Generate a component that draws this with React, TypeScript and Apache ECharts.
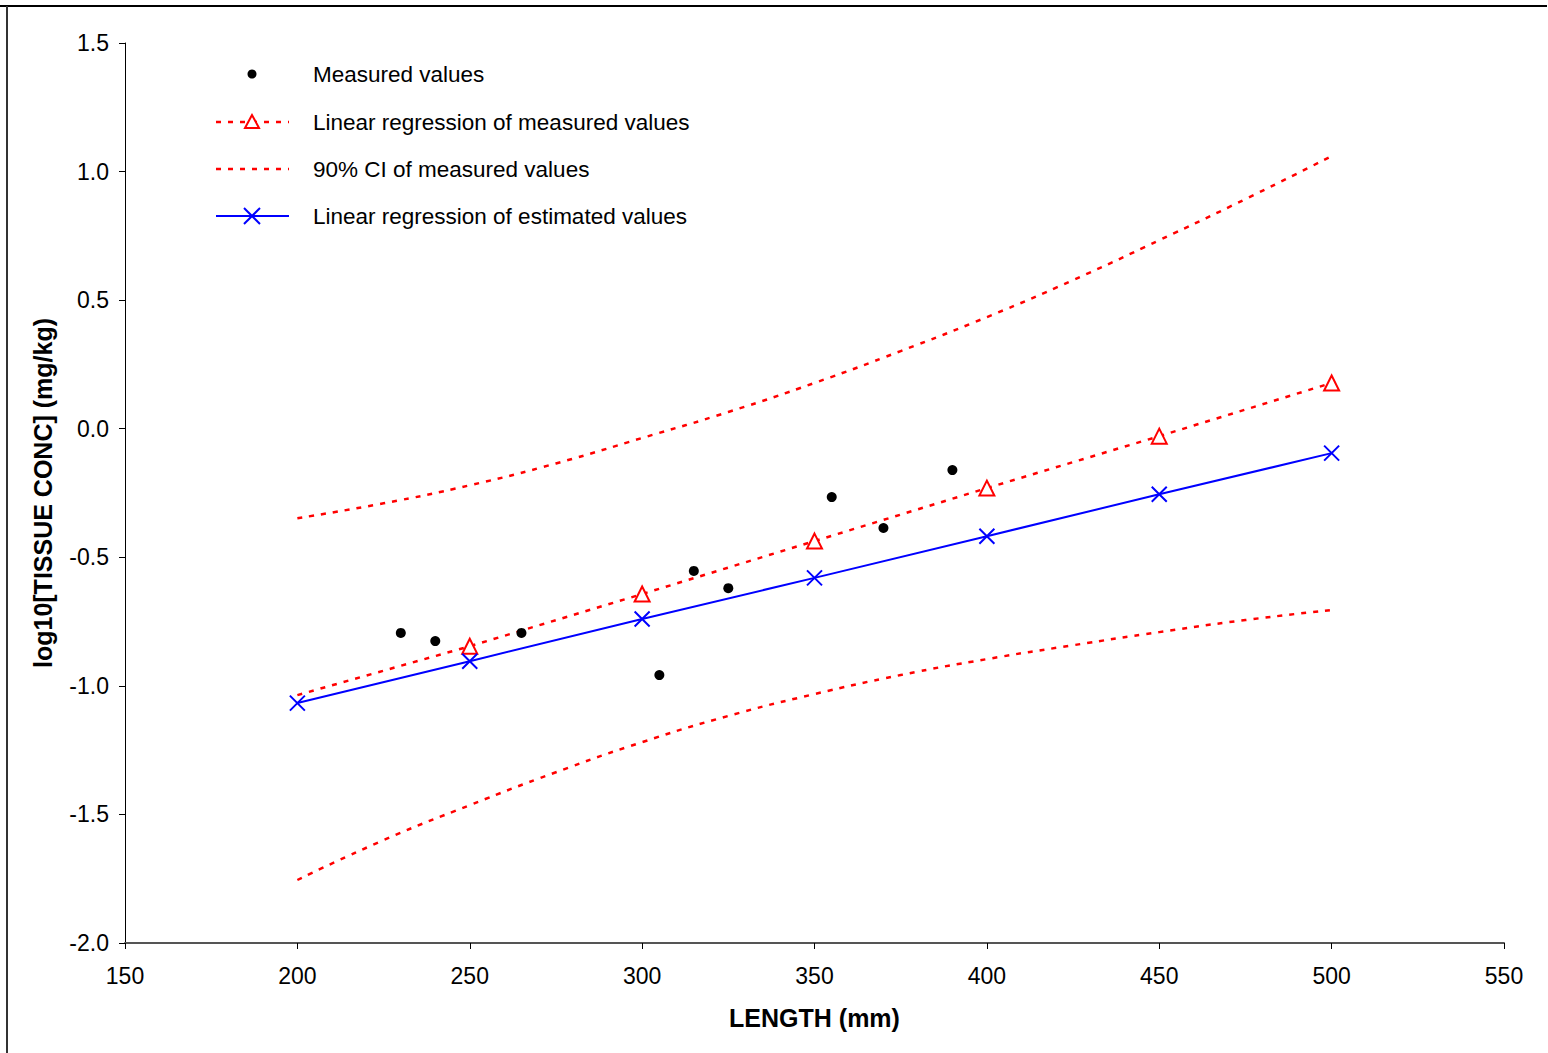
import React, { useEffect, useRef } from "react";
import * as echarts from "echarts";

const xRegression = [200, 250, 300, 350, 400, 450, 500];
const measuredX = [230, 240, 265, 305, 315, 325, 355, 370, 390];
const measuredY = [-0.794, -0.826, -0.794, -0.958, -0.553, -0.62, -0.266, -0.386, -0.161];
const regMeasured = [-1.036, -0.846, -0.643, -0.437, -0.231, -0.029, 0.178];
const regEstimated = [-1.067, -0.904, -0.74, -0.58, -0.418, -0.255, -0.095];
const ciX = [200, 225, 250, 275, 300, 325, 350, 375, 400, 425, 450, 475, 500];
const ciUpper = [-0.348, -0.29, -0.22, -0.135, -0.036, 0.065, 0.178, 0.302, 0.434, 0.578, 0.733, 0.893, 1.06];
const ciLower = [-1.755, -1.6, -1.464, -1.336, -1.219, -1.117, -1.032, -0.958, -0.896, -0.842, -0.791, -0.744, -0.705];
const legendLabels = [
  "Measured values",
  "Linear regression of measured values",
  "90% CI of measured values",
  "Linear regression of estimated values",
];

const FONT = "Liberation Sans, Arial, sans-serif";
const RED = "#ff0000";
const BLUE = "#0000ff";
const CROSS = "path://M0,0L10,10M10,0L0,10";

function buildLegend() {
  const rowsY = [74, 122, 169, 216];
  const x1 = 216;
  const x2 = 289;
  const cx = 252;
  const textX = 313;
  const els: any[] = [];
  const dash = [5, 7];
  // Measured values: dot
  els.push({ type: "circle", shape: { cx, cy: rowsY[0], r: 4.5 }, style: { fill: "#000" }, z: 100 });
  // Regression measured: dotted line + triangle
  els.push({
    type: "line",
    shape: { x1, y1: rowsY[1], x2, y2: rowsY[1] },
    style: { stroke: RED, lineWidth: 2.5, lineDash: dash },
    z: 100,
  });
  els.push({
    type: "polygon",
    shape: { points: [[cx, rowsY[1] - 7], [cx - 7, rowsY[1] + 6], [cx + 7, rowsY[1] + 6]] },
    style: { fill: "#fff", stroke: RED, lineWidth: 2 },
    z: 101,
  });
  // CI: dotted line
  els.push({
    type: "line",
    shape: { x1, y1: rowsY[2], x2, y2: rowsY[2] },
    style: { stroke: RED, lineWidth: 2.5, lineDash: dash },
    z: 100,
  });
  // Regression estimated: solid line + cross
  els.push({
    type: "line",
    shape: { x1, y1: rowsY[3], x2, y2: rowsY[3] },
    style: { stroke: BLUE, lineWidth: 2 },
    z: 100,
  });
  els.push({
    type: "line",
    shape: { x1: cx - 8, y1: rowsY[3] - 8, x2: cx + 8, y2: rowsY[3] + 8 },
    style: { stroke: BLUE, lineWidth: 2 },
    z: 101,
  });
  els.push({
    type: "line",
    shape: { x1: cx - 8, y1: rowsY[3] + 8, x2: cx + 8, y2: rowsY[3] - 8 },
    style: { stroke: BLUE, lineWidth: 2 },
    z: 101,
  });
  legendLabels.forEach((t, i) => {
    els.push({
      type: "text",
      x: textX,
      y: rowsY[i],
      style: {
        text: t,
        fontSize: 22.5,
        fontFamily: FONT,
        fill: "#000",
        verticalAlign: "middle",
        align: "left",
      },
      z: 100,
    });
  });
  return els;
}

export default function App() {
  const ref = useRef<HTMLDivElement>(null);
  useEffect(() => {
    if (!ref.current) return;
    const chart = echarts.init(ref.current, undefined, { renderer: "svg" });
    const dotted = { color: RED, width: 2.5, type: [5, 7] as number[] };
    chart.setOption({
      animation: false,
      backgroundColor: "#ffffff",
      textStyle: { fontFamily: FONT },
      grid: { left: 125, right: 44, top: 43, bottom: 110, containLabel: false },
      graphic: [
        { type: "line", shape: { x1: 0, y1: 6, x2: 1547, y2: 6 }, style: { stroke: "#000", lineWidth: 2 } },
        { type: "line", shape: { x1: 7, y1: 6, x2: 7, y2: 1053 }, style: { stroke: "#333", lineWidth: 2 } },
        ...buildLegend(),
      ],
      xAxis: {
        type: "value",
        min: 150,
        max: 550,
        interval: 50,
        name: "LENGTH (mm)",
        nameLocation: "middle",
        nameGap: 62,
        nameTextStyle: { fontSize: 25, fontWeight: "bold", color: "#000", fontFamily: FONT },
        axisLine: { onZero: false, lineStyle: { color: "#555", width: 2 } },
        axisTick: { show: true, inside: false, length: 6, lineStyle: { color: "#000", width: 1 } },
        axisLabel: { fontSize: 23, color: "#000", margin: 21, fontFamily: FONT },
        splitLine: { show: false },
      },
      yAxis: {
        type: "value",
        min: -2,
        max: 1.5,
        interval: 0.5,
        name: "log10[TISSUE CONC] (mg/kg)",
        nameLocation: "middle",
        nameGap: 70,
        nameRotate: 90,
        nameTextStyle: { fontSize: 25, fontWeight: "bold", color: "#000", fontFamily: FONT },
        axisLine: { show: true, onZero: false, lineStyle: { color: "#000", width: 1 } },
        axisTick: { show: true, inside: false, length: 6, lineStyle: { color: "#000", width: 1 } },
        axisLabel: {
          fontSize: 23,
          color: "#000",
          margin: 16,
          fontFamily: FONT,
          formatter: (v: number) => v.toFixed(1),
        },
        splitLine: { show: false },
      },
      series: [
        {
          name: "90% CI of measured values",
          type: "line",
          data: ciX.map((x, i) => [x, ciUpper[i]]),
          smooth: true,
          symbol: "none",
          showSymbol: false,
          lineStyle: dotted,
          itemStyle: { color: RED },
          z: 2,
        },
        {
          name: "90% CI of measured values",
          type: "line",
          data: ciX.map((x, i) => [x, ciLower[i]]),
          smooth: true,
          symbol: "none",
          showSymbol: false,
          lineStyle: dotted,
          itemStyle: { color: RED },
          z: 2,
        },
        {
          name: "Linear regression of measured values",
          type: "line",
          data: xRegression.map((x, i) =>
            i === 0 ? { value: [x, regMeasured[i]], symbol: "none" } : [x, regMeasured[i]]
          ),
          symbol: "emptyTriangle",
          symbolSize: 15,
          showAllSymbol: true,
          lineStyle: dotted,
          itemStyle: { color: RED, borderColor: RED, borderWidth: 2 },
          z: 3,
        },
        {
          name: "Linear regression of estimated values",
          type: "line",
          data: xRegression.map((x, i) => [x, regEstimated[i]]),
          symbol: CROSS,
          symbolSize: 15,
          showAllSymbol: true,
          lineStyle: { color: BLUE, width: 2, type: "solid" },
          itemStyle: { color: "none", borderColor: BLUE, borderWidth: 2 },
          z: 4,
        },
        {
          name: "Measured values",
          type: "scatter",
          data: measuredX.map((x, i) => [x, measuredY[i]]),
          symbol: "circle",
          symbolSize: 10,
          itemStyle: { color: "#000", opacity: 1 },
          z: 5,
        },
      ],
    });
    return () => chart.dispose();
  }, []);
  return (
    <div
      ref={ref}
      style={{ position: "fixed", left: 0, top: 0, width: 1548, height: 1053, background: "#fff" }}
    />
  );
}
